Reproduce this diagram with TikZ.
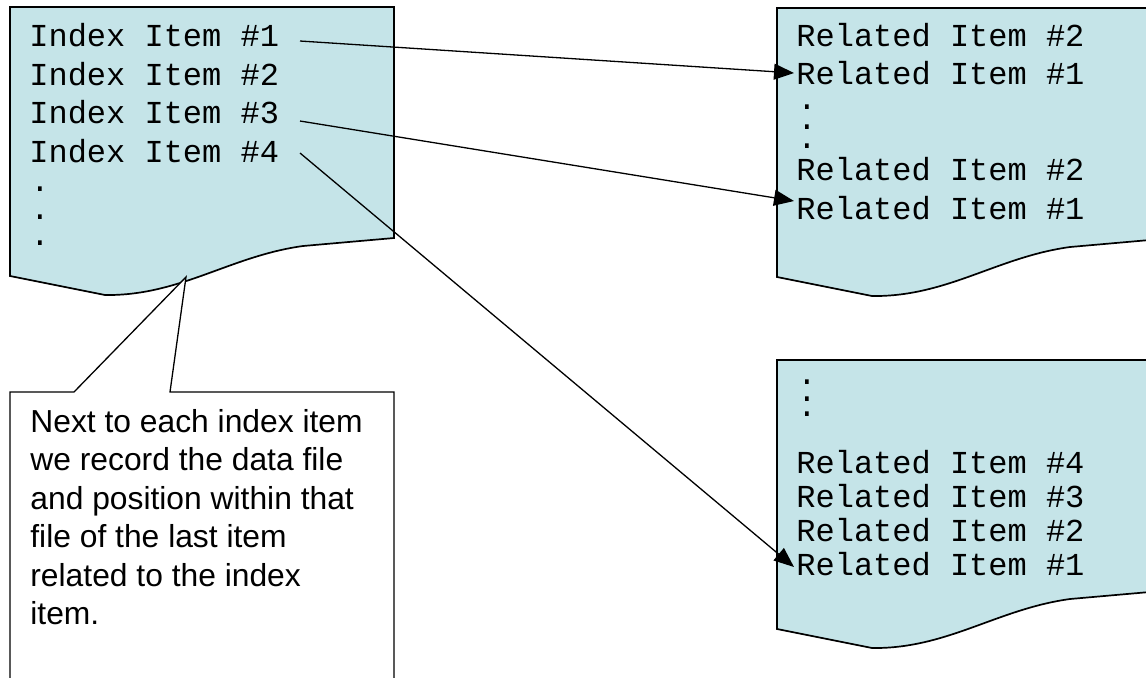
\documentclass[tikz,border=0pt]{standalone}
\usepackage{fontspec}
\setmainfont{Liberation Sans}
\setmonofont{Liberation Mono}
\usetikzlibrary{arrows.meta}
\definecolor{docfill}{RGB}{197,228,232}
\tikzset{
  docpic/.pic={
    \path[fill=docfill, draw=black, line width=0.85pt, line join=miter]
      (10,7) -- (394,7) -- (394,238) -- (303,246)
      .. controls (230,256) and (180,296) .. (105,295) -- (10,276) -- cycle;
  },
  mono/.style={anchor=base west, inner sep=0pt, font=\ttfamily\fontsize{16}{19}\selectfont},
  dotmark/.style={mono, text height=3pt, text depth=0pt},
  link/.style={line width=0.65pt, -{Triangle[length=10pt,width=8pt]}},
  plain/.style={line width=0.65pt},
}
\begin{document}
\begin{tikzpicture}[x=0.5pt, y=-0.5pt]
\useasboundingbox (0,0) rectangle (1146,677);
\clip (0,0) rectangle (1146,677);
\fill[white] (0,0) rectangle (1146,677);

% documents
\pic at (0,0) {docpic};
\pic at (767,1) {docpic};
\pic at (767,353) {docpic};

% index file
\node[mono] (i1) at (29,46) {Index Item \#1};
\node[mono] (i2) at (29,85) {Index Item \#2};
\node[mono] (i3) at (29,123) {Index Item \#3};
\node[mono] (i4) at (29,162) {Index Item \#4};
\node[dotmark] (id1) at (30,191) {.};
\node[dotmark] (id2) at (30,219) {.};
\node[dotmark] (id3) at (30,245) {.};

% top data file
\node[mono] (a1) at (796,46) {Related Item \#2};
\node[mono] (a2) at (796,84) {Related Item \#1};
\node[dotmark] (ad1) at (797,109) {.};
\node[dotmark] (ad2) at (797,129) {.};
\node[dotmark] (ad3) at (797,148) {.};
\node[mono] (a3) at (796,180) {Related Item \#2};
\node[mono] (a4) at (796,219) {Related Item \#1};

% bottom data file
\node[dotmark] (bd1) at (797,384) {.};
\node[dotmark] (bd2) at (797,401) {.};
\node[dotmark] (bd3) at (797,416) {.};
\node[mono] (b1) at (796,473) {Related Item \#4};
\node[mono] (b2) at (796,507) {Related Item \#3};
\node[mono] (b3) at (796,541) {Related Item \#2};
\node[mono] (b4) at (796,575) {Related Item \#1};

% connectors
\coordinate (s1) at (300,41);
\coordinate (s3) at (300,121);
\coordinate (s4) at (300,153);
\coordinate (t1) at (794,73);
\coordinate (t3) at (794,201);
\coordinate (t4) at (794,567);
\draw[link] (s1) -- (t1);
\draw[link] (s3) -- (t3);
\draw[link] (s4) -- (t4);

% callout
\coordinate (tip) at (186,277);
\draw[plain, fill=white, line join=miter]
  (10,690) -- (10,392) -- (74,392) -- (tip) -- (170,392) -- (394,392) -- (394,690);
\node[anchor=base west, inner sep=0pt] (note) at (30,432)
  {\parbox[t]{185pt}{\raggedright\fontsize{15.9}{19.25}\selectfont
  Next to each index item\\
  we record the data file\\
  and position within that\\
  file of the last item\\
  related to the index\\
  item.}};
\end{tikzpicture}
\end{document}
